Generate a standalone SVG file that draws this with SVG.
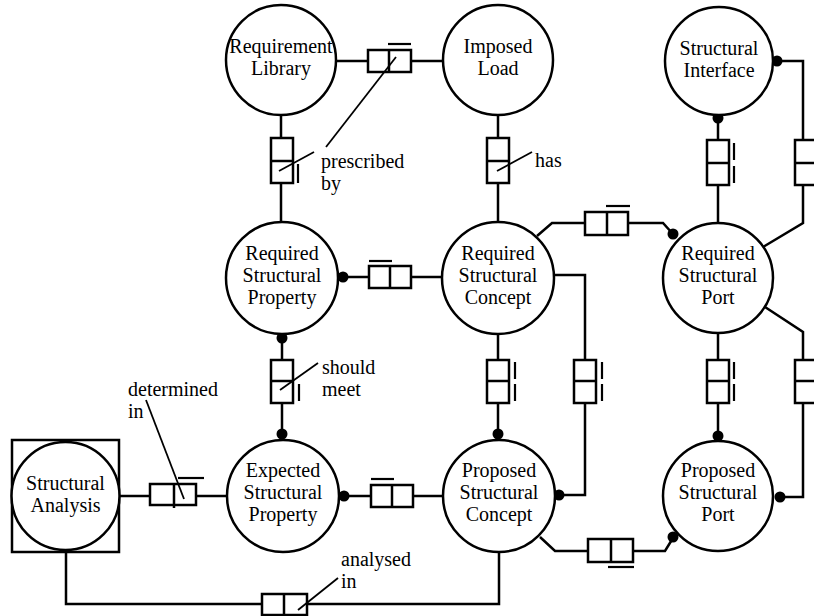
<svg xmlns="http://www.w3.org/2000/svg" width="814" height="616" viewBox="0 0 814 616" font-family="'Liberation Serif', 'DejaVu Serif', serif">
  <style>
    .node { fill: #fff; stroke: #000; stroke-width: 2.5; }
    .line { fill: none; stroke: #000; stroke-width: 2.5; }
    .thin { fill: none; stroke: #000; stroke-width: 1.8; }
    .box { fill: #fff; stroke: #000; stroke-width: 2.5; }
    .bar { fill: none; stroke: #000; stroke-width: 2.2; }
    .dot { fill: #000; }
    text { font-family: 'Liberation Serif', 'DejaVu Serif', serif; font-size: 20px; fill: #000; }
    .c { text-anchor: middle; }
  </style>

  <g id="connectors">
    <!-- Requirement Library - Imposed Load -->
    <line class="line" x1="336" y1="61" x2="442" y2="61"/>
    <rect class="box" x="368" y="50" width="43" height="22"/>
    <line class="line" x1="389" y1="50" x2="389" y2="72"/>
    <line class="bar" x1="388" y1="44" x2="411" y2="44"/>
    <line class="thin" x1="396" y1="57" x2="326" y2="147"/>

    <!-- Requirement Library - Required Structural Property -->
    <line class="line" x1="281" y1="114" x2="281" y2="223"/>
    <rect class="box" x="271" y="138" width="22" height="45"/>
    <line class="line" x1="271" y1="161" x2="293" y2="161"/>
    <line class="bar" x1="298" y1="164" x2="298" y2="183"/>
    <line class="thin" x1="314" y1="152" x2="279" y2="171"/>

    <!-- Imposed Load - Required Structural Concept -->
    <line class="line" x1="498" y1="114" x2="498" y2="223"/>
    <rect class="box" x="487" y="138" width="22" height="45"/>
    <line class="line" x1="487" y1="161" x2="509" y2="161"/>
    <line class="thin" x1="532" y1="152" x2="497" y2="171"/>

    <!-- Structural Interface - Required Structural Port (left) -->
    <line class="line" x1="718" y1="116" x2="718" y2="223"/>
    <circle class="dot" cx="718" cy="118" r="5.5"/>
    <rect class="box" x="707" y="140" width="22" height="45"/>
    <line class="line" x1="707" y1="163" x2="729" y2="163"/>
    <line class="bar" x1="734" y1="143" x2="734" y2="160"/>
    <line class="bar" x1="734" y1="166" x2="734" y2="183"/>

    <!-- Structural Interface - Required Structural Port (right) -->
    <path class="line" d="M774,61 H803 V140"/>
    <circle class="dot" cx="777" cy="61" r="5.5"/>
    <rect class="box" x="795" y="140" width="24" height="45"/>
    <line class="line" x1="795" y1="163" x2="819" y2="163"/>
    <path class="line" d="M803,185 V223 L763,247"/>

    <!-- Required Structural Concept - Required Structural Port -->
    <path class="line" d="M537,236 L552,223 H585"/>
    <rect class="box" x="585" y="212" width="43" height="23"/>
    <line class="line" x1="607" y1="212" x2="607" y2="235"/>
    <line class="bar" x1="606" y1="206" x2="630" y2="206"/>
    <path class="line" d="M628,223 H663 L672,233"/>
    <circle class="dot" cx="673" cy="234" r="5.5"/>

    <!-- Required Structural Property - Required Structural Concept -->
    <line class="line" x1="340" y1="277" x2="442" y2="277"/>
    <circle class="dot" cx="343" cy="277" r="5.5"/>
    <rect class="box" x="369" y="266" width="42" height="22"/>
    <line class="line" x1="390" y1="266" x2="390" y2="288"/>
    <line class="bar" x1="369" y1="261" x2="392" y2="261"/>

    <!-- Required Structural Concept - Proposed Structural Concept (side) -->
    <path class="line" d="M555,275 H585 V360"/>
    <rect class="box" x="574" y="360" width="22" height="43"/>
    <line class="line" x1="574" y1="381" x2="596" y2="381"/>
    <line class="bar" x1="602" y1="362" x2="602" y2="379"/>
    <line class="bar" x1="602" y1="384" x2="602" y2="401"/>
    <path class="line" d="M585,403 V495 H559"/>
    <circle class="dot" cx="559" cy="495" r="5.5"/>

    <!-- Required Structural Concept - Proposed Structural Concept -->
    <line class="line" x1="498" y1="333" x2="498" y2="440"/>
    <rect class="box" x="487" y="360" width="22" height="43"/>
    <line class="line" x1="487" y1="381" x2="509" y2="381"/>
    <line class="bar" x1="515" y1="362" x2="515" y2="379"/>
    <line class="bar" x1="515" y1="384" x2="515" y2="401"/>
    <circle class="dot" cx="498" cy="434" r="5.5"/>

    <!-- Required Structural Property - Expected Structural Property -->
    <line class="line" x1="282" y1="334" x2="282" y2="440"/>
    <circle class="dot" cx="282" cy="338" r="5.5"/>
    <rect class="box" x="271" y="360" width="22" height="43"/>
    <line class="line" x1="271" y1="381" x2="293" y2="381"/>
    <line class="bar" x1="299" y1="384" x2="299" y2="401"/>
    <circle class="dot" cx="282" cy="434" r="5.5"/>
    <line class="thin" x1="318" y1="363" x2="280" y2="390"/>

    <!-- Required Structural Port - Proposed Structural Port -->
    <line class="line" x1="718" y1="334" x2="718" y2="440"/>
    <rect class="box" x="707" y="360" width="22" height="43"/>
    <line class="line" x1="707" y1="381" x2="729" y2="381"/>
    <line class="bar" x1="734" y1="362" x2="734" y2="379"/>
    <line class="bar" x1="734" y1="384" x2="734" y2="401"/>
    <circle class="dot" cx="718" cy="436" r="5.5"/>

    <!-- Required Structural Port - Proposed Structural Port (side) -->
    <path class="line" d="M765,307 L803,332 V360"/>
    <rect class="box" x="795" y="360" width="24" height="43"/>
    <line class="line" x1="795" y1="381" x2="819" y2="381"/>
    <path class="line" d="M803,403 V497 H780"/>
    <circle class="dot" cx="780" cy="497" r="5.5"/>

    <!-- Expected Structural Property - Proposed Structural Concept -->
    <line class="line" x1="341" y1="496" x2="444" y2="496"/>
    <circle class="dot" cx="344" cy="496" r="5.5"/>
    <rect class="box" x="371" y="485" width="42" height="22"/>
    <line class="line" x1="392" y1="485" x2="392" y2="507"/>
    <line class="bar" x1="371" y1="479" x2="394" y2="479"/>

    <!-- Structural Analysis - Expected Structural Property -->
    <line class="line" x1="119" y1="496" x2="227" y2="496"/>
    <rect class="box" x="150" y="484" width="46" height="21"/>
    <line class="line" x1="174" y1="484" x2="174" y2="508"/>
    <line class="bar" x1="178" y1="478" x2="204" y2="478"/>
    <line class="thin" x1="146" y1="400" x2="184" y2="499"/>

    <!-- Structural Analysis - Proposed Structural Concept -->
    <path class="line" d="M66,552 V604 H499 V552"/>
    <rect class="box" x="262" y="594" width="45" height="21"/>
    <line class="line" x1="284" y1="594" x2="284" y2="615"/>
    <line class="thin" x1="338" y1="578" x2="298" y2="610"/>

    <!-- Proposed Structural Concept - Proposed Structural Port -->
    <path class="line" d="M540,537 L555,551 H588"/>
    <rect class="box" x="588" y="539" width="45" height="23"/>
    <line class="line" x1="611" y1="539" x2="611" y2="562"/>
    <line class="bar" x1="608" y1="567" x2="634" y2="567"/>
    <path class="line" d="M633,551 H665 L673,538"/>
    <circle class="dot" cx="673" cy="537" r="5.5"/>

    <!-- relation labels -->
    <text x="321" y="168">prescribed</text>
    <text x="321" y="190">by</text>
    <text x="535" y="167">has</text>
    <text x="322" y="374">should</text>
    <text x="322" y="396">meet</text>
    <text x="128" y="396">determined</text>
    <text x="128" y="418">in</text>
    <text x="341" y="566">analysed</text>
    <text x="341" y="588">in</text>
  </g>

  <g id="requirement-library">
    <circle class="node" cx="281" cy="60" r="55"/>
    <text class="c" x="281" y="53">Requirement</text>
    <text class="c" x="281" y="75">Library</text>
  </g>

  <g id="imposed-load">
    <circle class="node" cx="498" cy="60" r="55"/>
    <text class="c" x="498" y="53">Imposed</text>
    <text class="c" x="498" y="75">Load</text>
  </g>

  <g id="structural-interface">
    <circle class="node" cx="719" cy="61" r="54"/>
    <text class="c" x="719" y="55">Structural</text>
    <text class="c" x="719" y="77">Interface</text>
  </g>

  <g id="required-structural-property">
    <circle class="node" cx="282" cy="278" r="56"/>
    <text class="c" x="282" y="260">Required</text>
    <text class="c" x="282" y="282">Structural</text>
    <text class="c" x="282" y="304">Property</text>
  </g>

  <g id="required-structural-concept">
    <circle class="node" cx="498" cy="278" r="56"/>
    <text class="c" x="498" y="260">Required</text>
    <text class="c" x="498" y="282">Structural</text>
    <text class="c" x="498" y="304">Concept</text>
  </g>

  <g id="required-structural-port">
    <circle class="node" cx="718" cy="278" r="55"/>
    <text class="c" x="718" y="260">Required</text>
    <text class="c" x="718" y="282">Structural</text>
    <text class="c" x="718" y="304">Port</text>
  </g>

  <g id="structural-analysis">
    <rect class="node" x="12" y="440" width="107" height="112"/>
    <circle class="node" cx="65.5" cy="496" r="54"/>
    <text class="c" x="65.5" y="490">Structural</text>
    <text class="c" x="65.5" y="512">Analysis</text>
  </g>

  <g id="expected-structural-property">
    <circle class="node" cx="283" cy="496" r="56"/>
    <text class="c" x="283" y="477">Expected</text>
    <text class="c" x="283" y="499">Structural</text>
    <text class="c" x="283" y="521">Property</text>
  </g>

  <g id="proposed-structural-concept">
    <circle class="node" cx="499" cy="496" r="56"/>
    <text class="c" x="499" y="477">Proposed</text>
    <text class="c" x="499" y="499">Structural</text>
    <text class="c" x="499" y="521">Concept</text>
  </g>

  <g id="proposed-structural-port">
    <circle class="node" cx="718" cy="496" r="55"/>
    <text class="c" x="718" y="477">Proposed</text>
    <text class="c" x="718" y="499">Structural</text>
    <text class="c" x="718" y="521">Port</text>
  </g>
</svg>
